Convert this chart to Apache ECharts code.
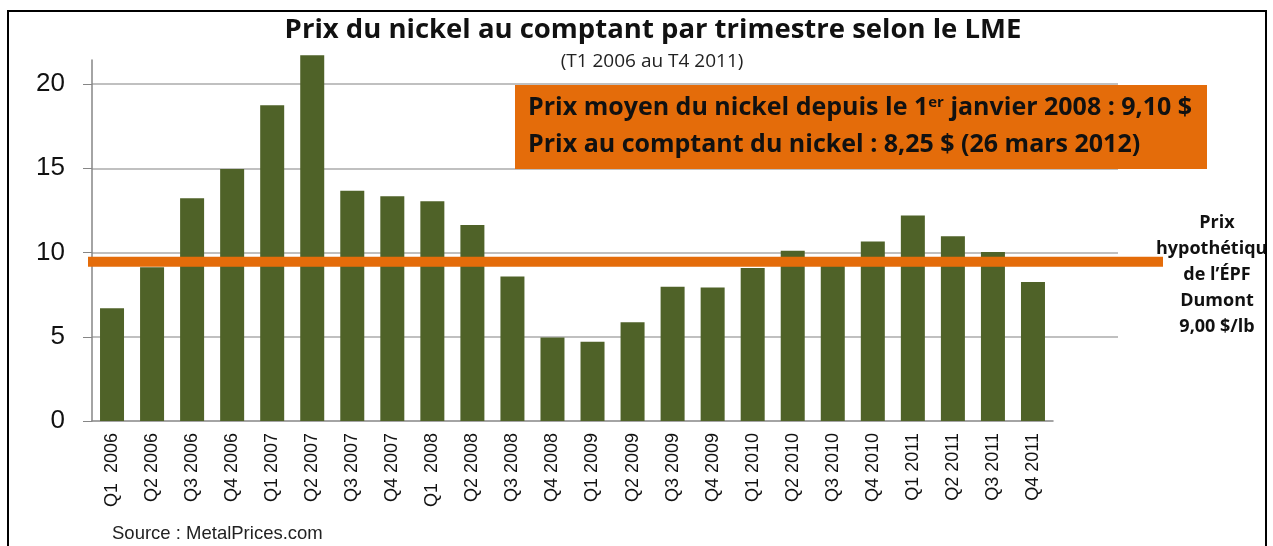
<!DOCTYPE html>
<html>
<head>
<meta charset="utf-8">
<script src="https://cdn.jsdelivr.net/npm/echarts@6/dist/echarts.min.js"></script>
<style>
  html, body { margin: 0; padding: 0; background: #fff; }
  #chart { width: 1273px; height: 546px; }
</style>
</head>
<body>
<div id="chart"></div>
<script>
// quarters on the x axis
const quarters = ['Q1  2006', 'Q2 2006', 'Q3 2006', 'Q4 2006', 'Q1 2007', 'Q2 2007', 'Q3 2007', 'Q4 2007',
  'Q1  2008', 'Q2 2008', 'Q3 2008', 'Q4 2008', 'Q1 2009', 'Q2 2009', 'Q3 2009', 'Q4 2009',
  'Q1 2010', 'Q2 2010', 'Q3 2010', 'Q4 2010', 'Q1 2011', 'Q2 2011', 'Q3 2011', 'Q4 2011']
// nickel spot price, $/lb
const prices = [6.69, 9.12, 13.22, 14.95, 18.74, 21.70, 13.67, 13.34,
  13.04, 11.63, 8.57, 4.95, 4.71, 5.86, 7.97, 7.93,
  9.08, 10.11, 9.55, 10.66, 12.19, 10.96, 10.03, 8.25]
// orange line (hypothetical price of the Dumont project), as drawn
const dumontLine = 9.45
const yMin = 0
const yMax = 20
const yStep = 5

const chart = echarts.init(document.getElementById('chart'))

const sans = '"Open Sans", "Noto Sans", sans-serif'
const arial = '"Liberation Sans", Arial, sans-serif'

// plot area: y = 0 at 421px, y = 20 at 84px
const plotTop = 84
const plotH = 337

const option = {
  animation: false,
  backgroundColor: '#fff',
  grid: [
    { left: 92, top: plotTop, width: 961, height: plotH },   // bars
    { left: 92, top: plotTop, width: 1026, height: plotH * (yMax - yStep) / yMax },  // gridlines (5..20)
    { left: 92, top: 60, width: 961, height: 361 },   // y axis line
    { left: 88, top: plotTop, width: 1075, height: plotH }   // orange line
  ],
  xAxis: [
    {
      gridIndex: 0,
      type: 'category',
      data: quarters,
      axisLine: { lineStyle: { color: '#868686', width: 1.5 } },
      axisTick: { length: 6, lineStyle: { color: '#868686' } },
      axisLabel: { rotate: 90, margin: 12, fontSize: 18, fontFamily: arial, color: '#111' }
    },
    { gridIndex: 1, type: 'value', min: 0, max: 1, show: false },
    { gridIndex: 2, type: 'value', min: 0, max: 1, show: false },
    { gridIndex: 3, type: 'value', min: 0, max: 1, show: false }
  ],
  yAxis: [
    {
      gridIndex: 0,
      type: 'value',
      min: yMin,
      max: yMax,
      interval: yStep,
      axisLine: { show: false },
      axisTick: { show: true, length: 9, lineStyle: { color: '#868686' } },
      splitLine: { show: false },
      axisLabel: { margin: 27, fontSize: 26, fontFamily: arial, color: '#111' }
    },
    {
      gridIndex: 1,
      type: 'value',
      min: yStep,
      max: yMax,
      interval: yStep,
      axisLine: { show: false },
      axisTick: { show: false },
      axisLabel: { show: false },
      splitLine: { lineStyle: { color: '#ababab', width: 1.5 } }
    },
    {
      gridIndex: 2,
      type: 'value',
      min: 0,
      max: 1,
      axisLine: { show: true, lineStyle: { color: '#868686', width: 1.5 } },
      axisTick: { show: false },
      axisLabel: { show: false },
      splitLine: { show: false }
    },
    { gridIndex: 3, type: 'value', min: yMin, max: yMax, show: false }
  ],
  series: [
    {
      type: 'bar',
      xAxisIndex: 0,
      yAxisIndex: 0,
      data: prices,
      barWidth: 24,
      clip: false,
      z: 3,
      itemStyle: { color: '#4F6228' }
    },
    {
      type: 'line',
      xAxisIndex: 3,
      yAxisIndex: 3,
      data: [[0, dumontLine], [1, dumontLine]],
      symbol: 'none',
      silent: true,
      z: 5,
      lineStyle: { color: '#E46C0A', width: 10 }
    }
  ],
  graphic: [
    {
      type: 'text', x: 653, y: 30, z: 10,
      style: {
        text: 'Prix du nickel au comptant par trimestre selon le LME',
        font: 'bold 27.5px ' + sans, fill: '#111', align: 'center', verticalAlign: 'middle'
      }
    },
    {
      type: 'text', x: 652, y: 62, z: 10,
      style: {
        text: '(T1 2006 au T4 2011)',
        font: '19px ' + sans, fill: '#222', align: 'center', verticalAlign: 'middle'
      }
    },
    {
      type: 'rect', z: 8,
      shape: { x: 515, y: 85, width: 692, height: 84 },
      style: { fill: '#E46C0A' }
    },
    {
      type: 'text', x: 528, y: 108, z: 10,
      style: {
        text: 'Prix moyen du nickel depuis le 1{sup|er} janvier 2008 : 9,10 $',
        font: 'bold 25px ' + sans, fill: '#111', verticalAlign: 'middle',
        rich: {
          sup: { fontSize: 15, fontWeight: 'bold', fontFamily: sans, fill: '#111', verticalAlign: 'top', padding: [0, 0, 10, 0] }
        }
      }
    },
    {
      type: 'text', x: 528, y: 145, z: 10,
      style: {
        text: 'Prix au comptant du nickel : 8,25 $ (26 mars 2012)',
        font: 'bold 25px ' + sans, fill: '#111', verticalAlign: 'middle'
      }
    },
    {
      type: 'text', x: 1217, y: 210, z: 10,
      style: {
        text: 'Prix\nhypothétique\nde l\u2019ÉPF\nDumont\n9,00 $/lb',
        font: 'bold 18px ' + sans, fill: '#111', align: 'center', verticalAlign: 'top', lineHeight: 26
      }
    },
    {
      type: 'text', x: 112, y: 534, z: 10,
      style: {
        text: 'Source : MetalPrices.com',
        font: '18.5px ' + arial, fill: '#222', verticalAlign: 'middle'
      }
    },
    {
      type: 'rect', z: 11,
      shape: { x: 1267, y: 0, width: 6, height: 546 },
      style: { fill: '#fff' }
    },
    {
      type: 'rect', z: 12,
      shape: { x: 8, y: 11, width: 1258, height: 560 },
      style: { fill: 'none', stroke: '#000', lineWidth: 2 }
    }
  ]
}

chart.setOption(option)
window.addEventListener('resize', function () { chart.resize() })
</script>
</body>
</html>
